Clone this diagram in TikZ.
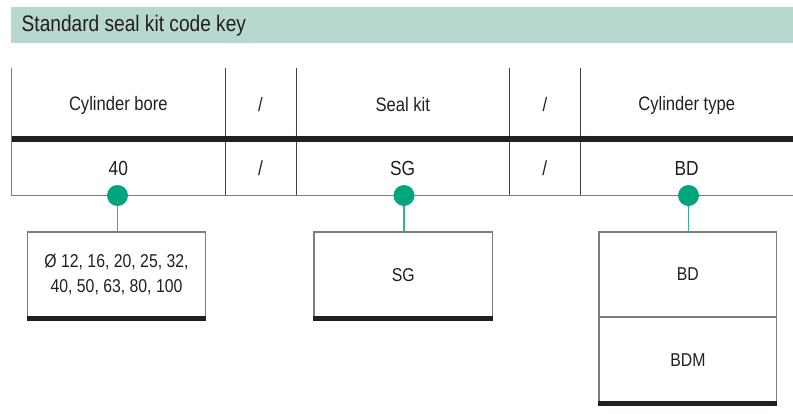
\documentclass[tikz,border=0pt]{standalone}
\usepackage{fontspec}
\setmainfont{Liberation Sans}[FakeStretch=0.85]
\definecolor{band}{RGB}{182,216,207}
\definecolor{ink}{RGB}{35,31,32}
\definecolor{rule}{RGB}{125,125,125}
\definecolor{dotgreen}{RGB}{0,165,126}
\definecolor{stemgreen}{RGB}{50,178,148}
\tikzset{
  grayline/.style={draw=rule, line width=1.2pt},
  darkline/.style={draw=ink!85, line width=1.0pt},
  heavybar/.style={draw=ink, line width=5.5pt},
  headtxt/.style={text=ink, font=\fontsize{19.5}{22}\selectfont, inner sep=0pt},
  valtxt/.style={text=ink, font=\fontsize{20.4}{23}\selectfont, inner sep=0pt},
  dot/.style={circle, fill=dotgreen, minimum size=21pt, inner sep=0pt},
  stem/.style={draw=stemgreen, line width=1.5pt},
  optbox/.style={draw=rule, line width=1.2pt, fill=white, rectangle, text=ink,
    font=\fontsize{18.6}{25}\selectfont, align=center, inner sep=0pt},
}
\begin{document}
\begin{tikzpicture}[x=1pt,y=-1pt]
\useasboundingbox (0,0) rectangle (793,413);
% title band
\fill[band] (11,7) rectangle (793,43);
\node[anchor=west, text=ink, font=\fontsize{22.5}{26}\selectfont, inner sep=0pt] (title) at (21.5,25.5) {Standard seal kit code key};
% table lines
\draw[grayline] (11.7,68) -- (11.7,196);
\draw[darkline] (225,68) -- (225,196);
\draw[darkline] (296,68) -- (296,196);
\draw[darkline] (509.3,68) -- (509.3,196);
\draw[darkline] (580.3,68) -- (580.3,196);
\draw[heavybar] (11.7,139.2) -- (793,139.2);
\draw[grayline] (11.7,195.7) -- (793,195.7);
% header texts
\node[headtxt] (h1) at (118.3,105) {Cylinder bore};
\node[headtxt] (hs1) at (260.5,105) {/};
\node[headtxt] (h2) at (402.7,105) {Seal kit};
\node[headtxt] (hs2) at (544.8,105) {/};
\node[headtxt] (h3) at (686.7,105) {Cylinder type};
% value texts
\node[valtxt] (v1) at (118.3,168.5) {40};
\node[valtxt] (vs1) at (260.5,168.5) {/};
\node[valtxt] (v2) at (402.7,168.5) {SG};
\node[valtxt] (vs2) at (544.8,168.5) {/};
\node[valtxt] (v3) at (686.7,168.5) {BD};
% option boxes
\node[optbox, minimum width=178.4pt, minimum height=86pt] (b1) at (116.5,275) {Ø 12, 16, 20, 25, 32,\\40, 50, 63, 80, 100};
\node[optbox, minimum width=178.3pt, minimum height=86pt] (b2) at (403.2,275) {SG};
\node[optbox, minimum width=177.7pt, minimum height=85pt] (b3a) at (687.9,274.5) {BD};
\node[optbox, minimum width=177.7pt, minimum height=86pt] (b3b) at (687.9,360) {BDM};
\draw[heavybar] (b1.south west) -- (b1.south east);
\draw[heavybar] (b2.south west) -- (b2.south east);
\draw[heavybar] (b3b.south west) -- (b3b.south east);
% dots and stems
\node[dot] (d1) at (117.5,195.5) {};
\node[dot] (d2) at (404,195.5) {};
\node[dot] (d3) at (688.5,195.5) {};
\draw[stem] (d1.south) -- (d1.south |- b1.north);
\draw[stem] (d2.south) -- (d2.south |- b2.north);
\draw[stem] (d3.south) -- (d3.south |- b3a.north);
\end{tikzpicture}
\end{document}
